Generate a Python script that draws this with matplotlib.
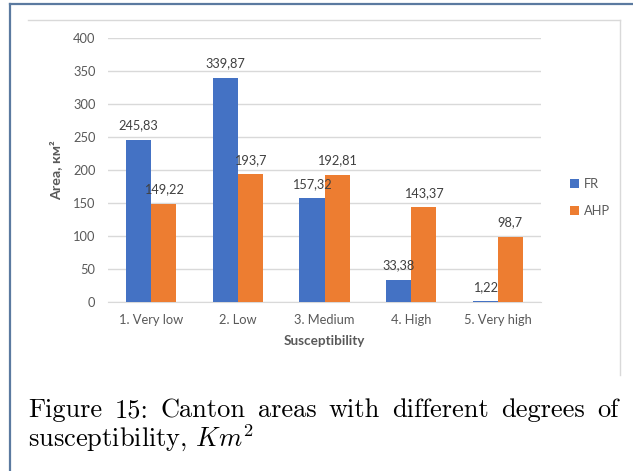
import matplotlib
matplotlib.use("Agg")
import matplotlib.pyplot as plt
from matplotlib.lines import Line2D
import numpy as np

categories = ["1. Very low", "2. Low", "3. Medium", "4. High", "5. Very high"]
fr_values = [245.83, 339.87, 157.32, 33.38, 1.22]
ahp_values = [149.22, 193.7, 192.81, 143.37, 98.7]
fr_labels = ["245,83", "339,87", "157,32", "33,38", "1,22"]
ahp_labels = ["149,22", "193,7", "192,81", "143,37", "98,7"]
yticks = [0, 50, 100, 150, 200, 250, 300, 350, 400]

plt.rcParams['mathtext.fontset'] = 'cm'
sans = ['Lato', 'Open Sans', 'DejaVu Sans']

W, H = 633, 471
fig = plt.figure(figsize=(W / 100, H / 100), dpi=100)
fig.patch.set_facecolor('white')

def fx(px):
    return px / W

def fy(py):
    return 1 - py / H

# outer blue frame (top and left)
fig.add_artist(Line2D([fx(10), fx(633)], [fy(4), fy(4)], color='#5b7aa0', lw=1.6))
fig.add_artist(Line2D([fx(10), fx(10)], [fy(4), fy(471)], color='#5b7aa0', lw=1.6))
# inner gray chart border (top and right)
fig.add_artist(Line2D([fx(28), fx(620)], [fy(20), fy(20)], color='#d9d9d9', lw=1))
fig.add_artist(Line2D([fx(620), fx(620)], [fy(20), fy(375)], color='#d9d9d9', lw=1))

ax = fig.add_axes([fx(108), fy(302), fx(541) - fx(108), fy(38) - fy(302)])
x = np.arange(len(categories))
bw = 0.29
blue = '#4472C4'
orange = '#ED7D31'
b1 = ax.bar(x - bw / 2, fr_values, bw, color=blue, zorder=3, label='FR')
b2 = ax.bar(x + bw / 2, ahp_values, bw, color=orange, zorder=3, label='AHP')

for rect, lab in zip(b1, fr_labels):
    ax.annotate(lab, (rect.get_x() + rect.get_width() / 2, rect.get_height()),
                xytext=(0, 6), textcoords='offset points', ha='center', va='bottom',
                fontsize=9.2, color='#404040', family=sans)
for rect, lab in zip(b2, ahp_labels):
    ax.annotate(lab, (rect.get_x() + rect.get_width() / 2, rect.get_height()),
                xytext=(0, 6), textcoords='offset points', ha='center', va='bottom',
                fontsize=9.2, color='#404040', family=sans)

ax.set_xlim(-0.5, len(categories) - 0.5)
ax.set_ylim(0, 400)
ax.set_yticks(yticks)
ax.set_yticklabels([str(v) for v in yticks], fontsize=9.3, color='#595959', family=sans)
ax.set_xticks(x)
ax.set_xticklabels(categories, fontsize=9.3, color='#595959', family=sans)
ax.tick_params(axis='both', length=0)
ax.tick_params(axis='y', pad=9)
ax.tick_params(axis='x', pad=9)
ax.grid(axis='y', color='#d9d9d9', lw=1, zorder=0)
for s in ['top', 'right', 'left']:
    ax.spines[s].set_visible(False)
ax.spines['bottom'].set_color('#d9d9d9')
ax.set_xlabel('Susceptibility', fontsize=9.7, color='#595959', family=sans,
              fontweight='bold', labelpad=6)
ax.set_ylabel('Area, км²', fontsize=10.3, color='#595959', family=sans,
              fontweight='bold', labelpad=8)

leg = ax.legend(loc='center left',
                bbox_to_anchor=((558 - 108) / (541 - 108), (302 - 197.5) / 264),
                frameon=False, prop={'family': sans, 'size': 9.3},
                handlelength=0.7, handleheight=0.7, handletextpad=0.4, labelspacing=1.2)
for t in leg.get_texts():
    t.set_color('#595959')

# caption
cap_size = 19
words = "Figure 15: Canton areas with different degrees of".split()
fig.canvas.draw()
r = fig.canvas.get_renderer()
texts = []
for w in words:
    t = fig.text(0, fy(417), w, fontsize=cap_size, family='cmr10', va='baseline')
    texts.append(t)
widths = [t.get_window_extent(r).width for t in texts]
x0, x1 = 28, 618
gap = (x1 - x0 - sum(widths)) / (len(words) - 1)
cx = x0
for t, wdt in zip(texts, widths):
    t.set_x(fx(cx))
    cx += wdt + gap
fig.text(fx(28), fy(447), "susceptibility, $Km^2$", fontsize=cap_size, family='cmr10', va='baseline')

fig.savefig('out.png', dpi=100)
